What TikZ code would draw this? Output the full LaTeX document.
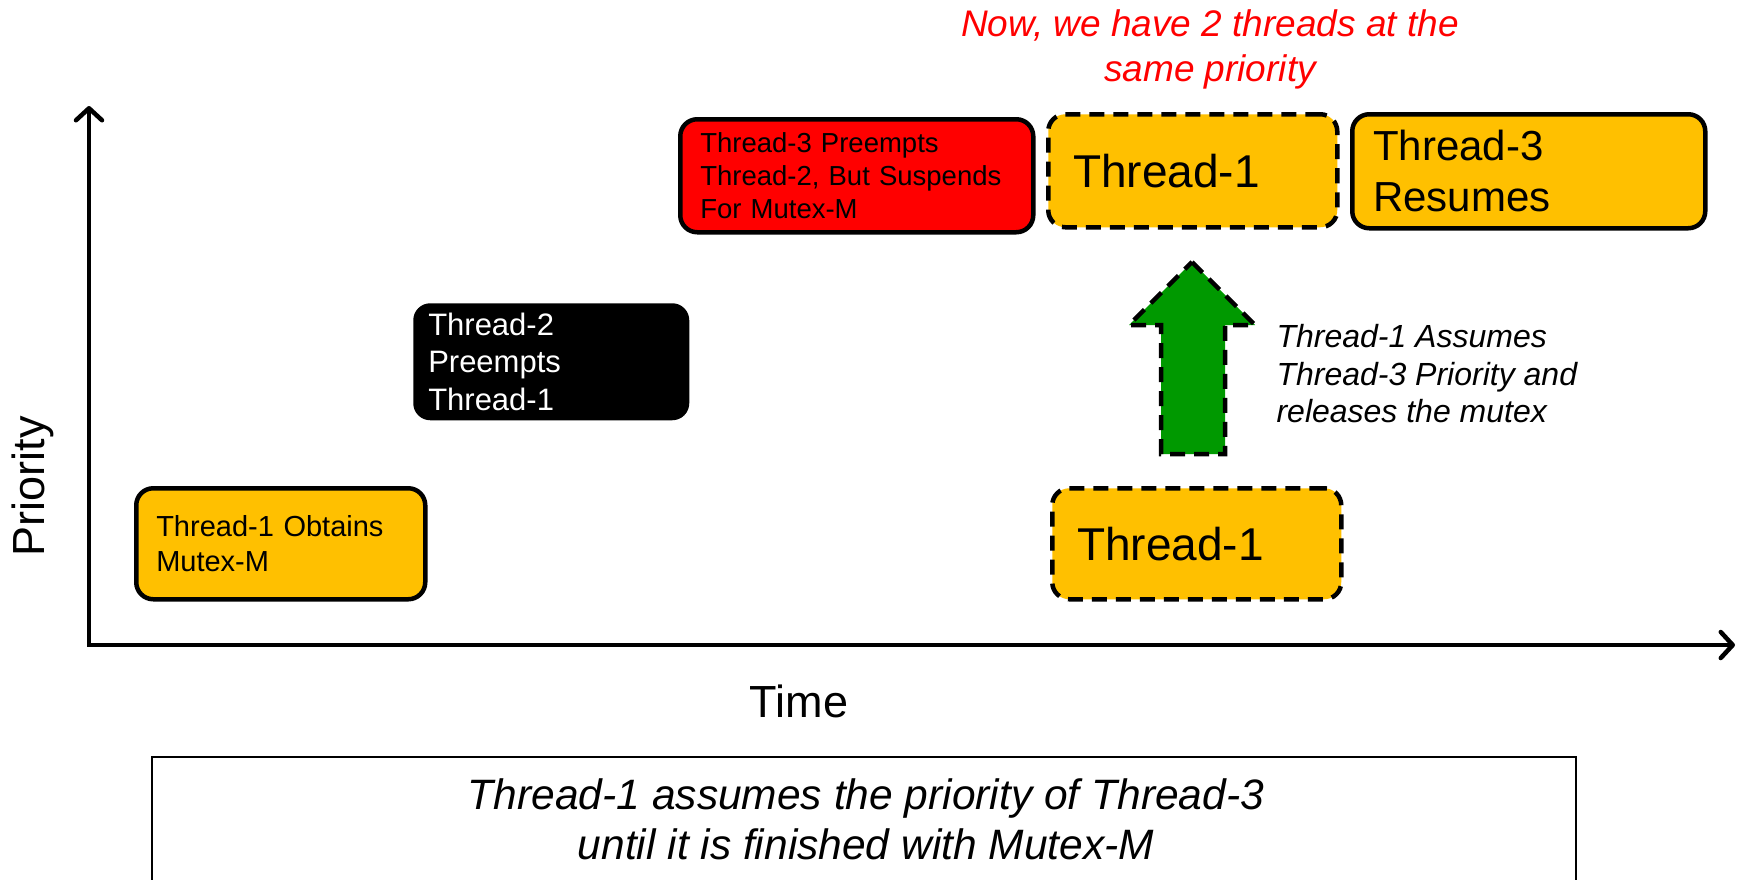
\documentclass[tikz,border=0pt]{standalone}
\usepackage{fontspec}
\setmainfont{Liberation Sans}
\usetikzlibrary{arrows.meta}
\definecolor{tyellow}{HTML}{FFC000}
\definecolor{tred}{HTML}{FF0000}
\definecolor{tgreen}{HTML}{009900}
\tikzset{
  tbox/.style={rectangle, rounded corners=17pt, line width=4.5pt, draw=black,
    inner xsep=0pt, inner ysep=0pt, align=left, anchor=north west},
  dashbox/.style={tbox, dash pattern=on 15pt off 9pt},
  axisline/.style={line width=4.5pt, line join=miter},
  barb/.tip={Straight Barb[length=12pt,width=26pt,line width=4.5pt,round]},
}
\begin{document}
\begin{tikzpicture}[x=1pt,y=1pt]
\useasboundingbox (0,0) rectangle (1744,-879);
\fill[white] (0,0) rectangle (1744,-879);

% axes
\coordinate (ytop) at (89,-106);
\coordinate (orig) at (89,-645);
\coordinate (xend) at (1735,-645);
\draw[axisline, barb-barb] (ytop) -- (orig) -- (xend);

\node[rotate=90, font=\fontsize{45}{54}\selectfont] (prio) at (33,-486) {Priority};
\node[font=\fontsize{45}{54}\selectfont] (time) at (799,-701) {Time};

% boxes
\node[tbox, fill=tyellow, minimum width=289pt, minimum height=111pt,
  text width=289pt, font=\fontsize{29}{34.5}\selectfont] (b1) at (134,-486)
  {\hspace*{20pt}Thread-1 Obtains\\\hspace*{20pt}Mutex-M};
\node[tbox, draw=none, fill=black, text=white, minimum width=276pt, minimum height=117pt,
  text width=276pt, font=\fontsize{31}{37.8}\selectfont] (b2) at (411,-301)
  {\hspace*{15pt}Thread-2\\\hspace*{15pt}Preempts\\\hspace*{15pt}Thread-1};
\node[tbox, fill=tred, minimum width=353pt, minimum height=113pt,
  text width=353pt, font=\fontsize{27.5}{33}\selectfont] (b3) at (678,-117)
  {\hspace*{20pt}Thread-3 Preempts\\\hspace*{20pt}Thread-2, But Suspends\\\hspace*{20pt}For Mutex-M};
\node[dashbox, fill=tyellow, minimum width=289pt, minimum height=113pt,
  text width=289pt, font=\fontsize{46}{52}\selectfont] (b4) at (1046,-112)
  {\hspace*{25pt}Thread-1};
\node[tbox, fill=tyellow, minimum width=353pt, minimum height=114pt,
  text width=353pt, font=\fontsize{42}{51}\selectfont] (b5) at (1350,-112)
  {\hspace*{21pt}Thread-3\\\hspace*{21pt}Resumes};
\node[dashbox, fill=tyellow, minimum width=289pt, minimum height=111pt,
  text width=289pt, font=\fontsize{46}{52}\selectfont] (b6) at (1050,-486)
  {\hspace*{25pt}Thread-1};

% green arrow
\filldraw[fill=tgreen, draw=black, line width=4.5pt, dash pattern=on 15pt off 9pt]
  (1192,-262) -- (1255,-325) -- (1225,-325) -- (1225,-454) -- (1161,-454)
  -- (1161,-325) -- (1129,-325) -- cycle;

\node[anchor=west, align=left, font=\itshape\fontsize{32}{37.8}\selectfont] (note) at (1273,-373.7)
  {Thread-1 Assumes\\Thread-3 Priority and\\releases the mutex};

\node[align=center, text=tred, font=\itshape\fontsize{37}{45.6}\selectfont] (top) at (1210,-49.5)
  {Now, we have 2 threads at the\\same priority};

% bottom box
\coordinate (bl) at (152,-885);
\coordinate (tl) at (152,-757);
\coordinate (tr) at (1576,-757);
\coordinate (br) at (1576,-885);
\draw[line width=2pt] (bl) -- (tl) -- (tr) -- (br);
\node[align=center, font=\itshape\fontsize{42.5}{50}\selectfont] (summary) at (866,-819)
  {Thread-1 assumes the priority of Thread-3\\until it is finished with Mutex-M};
\end{tikzpicture}
\end{document}
